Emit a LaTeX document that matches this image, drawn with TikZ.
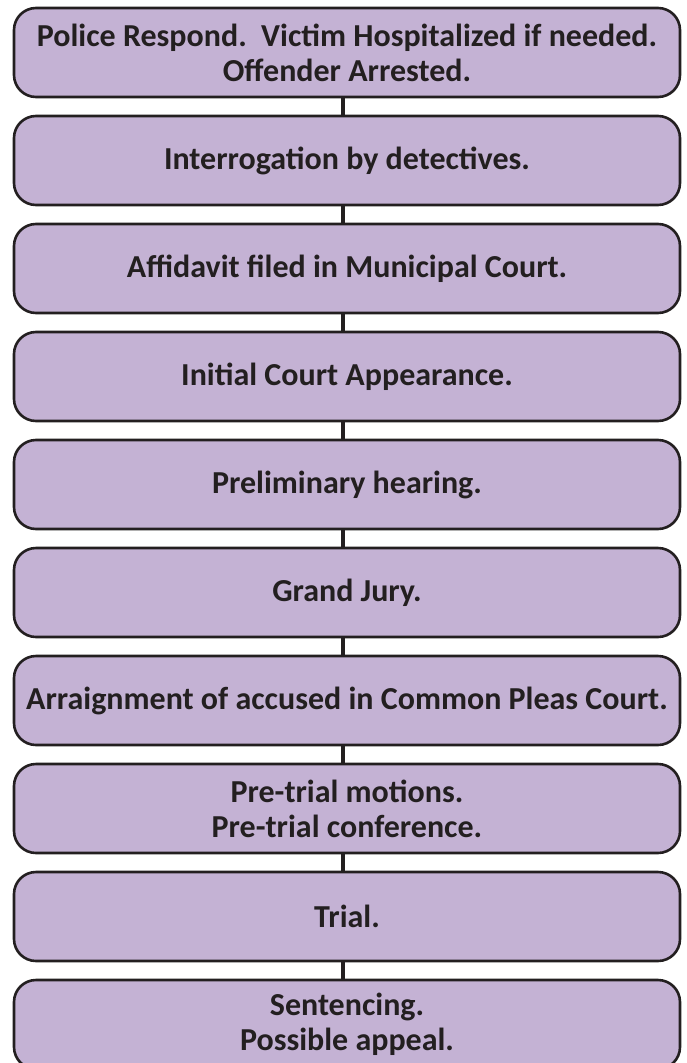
\documentclass[tikz,border=0pt]{standalone}
\usepackage{fontspec}
\setmainfont{Carlito}
\usepackage{tikz}
\definecolor{stagefill}{RGB}{196,178,212}
\definecolor{inkdark}{RGB}{35,31,32}

\begin{document}
\begin{tikzpicture}[x=1pt, y=-1pt,
    stagebox/.style={draw=inkdark, line width=2.6pt, fill=stagefill, rounded corners=22pt,
      minimum width=666pt, minimum height=89pt, align=center, text=inkdark, inner sep=2pt,
      font=\fontsize{32}{35}\selectfont\bfseries},
    link/.style={draw=inkdark, line width=4pt}]
  \useasboundingbox (0,0) rectangle (686,1063);
  \clip (0,0) rectangle (686,1063);

  \node[stagebox] (B1) at (347,52.5) {Police Respond.\ \ Victim Hospitalized if needed.\\Offender Arrested.};
  \node[stagebox] (B2) at (347,160.5) {Interrogation by detectives.};
  \node[stagebox] (B3) at (347,268.5) {Affidavit filed in Municipal Court.};
  \node[stagebox] (B4) at (347,376.5) {Initial Court Appearance.};
  \node[stagebox] (B5) at (347,484.5) {Preliminary hearing.};
  \node[stagebox] (B6) at (347,592.5) {Grand Jury.};
  \node[stagebox] (B7) at (347,700.5) {Arraignment of accused in Common Pleas Court.};
  \node[stagebox] (B8) at (347,808.5) {Pre-trial motions.\\Pre-trial conference.};
  \node[stagebox] (B9) at (347,916.5) {Trial.};
  \node[stagebox] (B10) at (347,1024.5) {Sentencing.\\Possible appeal.};

  % links between stages
  \draw[link] ([xshift=-4pt]B1.south) -- ([xshift=-4pt]B2.north);
  \draw[link] ([xshift=-4pt]B2.south) -- ([xshift=-4pt]B3.north);
  \draw[link] ([xshift=-4pt]B3.south) -- ([xshift=-4pt]B4.north);
  \draw[link] ([xshift=-4pt]B4.south) -- ([xshift=-4pt]B5.north);
  \draw[link] ([xshift=-4pt]B5.south) -- ([xshift=-4pt]B6.north);
  \draw[link] ([xshift=-4pt]B6.south) -- ([xshift=-4pt]B7.north);
  \draw[link] ([xshift=-4pt]B7.south) -- ([xshift=-4pt]B8.north);
  \draw[link] ([xshift=-4pt]B8.south) -- ([xshift=-4pt]B9.north);
  \draw[link] ([xshift=-4pt]B9.south) -- ([xshift=-4pt]B10.north);
\end{tikzpicture}
\end{document}
